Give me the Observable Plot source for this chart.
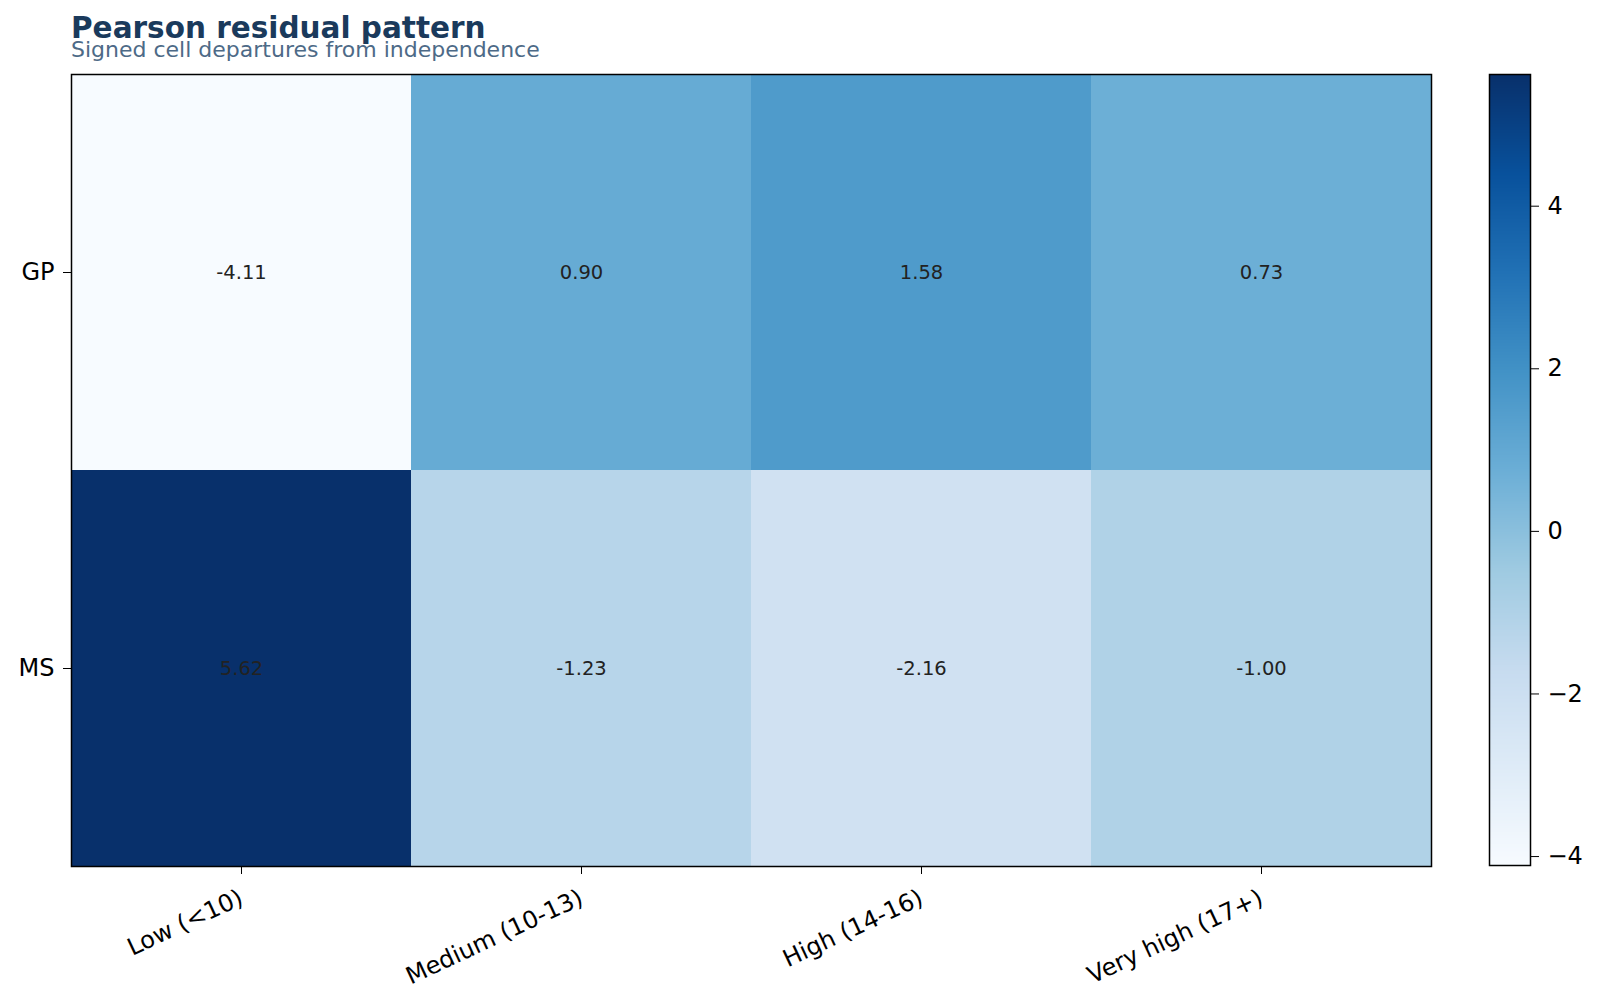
<!DOCTYPE html>
<html>
<head>
<meta charset="utf-8">
<script src="https://cdn.jsdelivr.net/npm/d3@7"></script>
<script src="https://cdn.jsdelivr.net/npm/@observablehq/plot@0.6"></script>
<style>
  html, body { margin: 0; padding: 0; background: #fff; }
  #wrap { position: relative; width: 1600px; height: 1005px; font-family: "DejaVu Sans", sans-serif; }
  #title { position: absolute; left: 71px; top: 14px; font-size: 29.5px; line-height: 29.5px; font-weight: bold; color: #1a3a5c; white-space: nowrap; }
  #subtitle { position: absolute; left: 71px; top: 39px; font-size: 22px; line-height: 22px; color: #4d6a87; white-space: nowrap; }
  #main { position: absolute; left: 0; top: 0; }
  #cbar { position: absolute; left: 1488px; top: 0; }
</style>
</head>
<body>
<div id="wrap">
  <div id="main"></div>
  <div id="cbar"></div>
  <div id="title">Pearson residual pattern</div>
  <div id="subtitle">Signed cell departures from independence</div>
</div>
<script>
const rows = ["GP", "MS"];
const cols = ["Low (<10)", "Medium (10-13)", "High (14-16)", "Very high (17+)"];
const gpValues = [-4.11, 0.90, 1.58, 0.73];
const msValues = [5.62, -1.23, -2.16, -1.00];
const colorbarTicks = [-4, -2, 0, 2, 4];
const blues9 = ["#f7fbff", "#deebf7", "#c6dbef", "#9ecae1", "#6baed6", "#4292c6", "#2171b5", "#08519c", "#08306b"];

const data = [];
cols.forEach((c, i) => data.push({row: "GP", col: c, value: gpValues[i]}));
cols.forEach((c, i) => data.push({row: "MS", col: c, value: msValues[i]}));

const vmin = d3.min(data, d => d.value);
const vmax = d3.max(data, d => d.value);
const colorDomain = blues9.map((_, i) => vmin + (vmax - vmin) * i / (blues9.length - 1));
const colorScale = {type: "linear", domain: colorDomain, range: blues9, interpolate: "rgb"};

const font = {fontFamily: "DejaVu Sans, sans-serif", fontSize: "24px", background: "transparent", color: "black", overflow: "visible"};

const main = Plot.plot({
  width: 1600,
  height: 1005,
  marginLeft: 71,
  marginRight: 169,
  marginTop: 74,
  marginBottom: 139,
  style: font,
  x: {domain: cols, padding: 0, label: null, tickSize: 8, tickPadding: 22, tickRotate: -25},
  y: {domain: rows, padding: 0, label: null, tickSize: 8, tickPadding: 9},
  color: colorScale,
  marks: [
    Plot.cell(data, {x: "col", y: "row", fill: "value"}),
    Plot.text(data, {x: "col", y: "row", text: d => d.value.toFixed(2), fontSize: 19.5, fill: "#222"}),
    Plot.frame({stroke: "black", strokeWidth: 1.5})
  ]
});
document.getElementById("main").appendChild(main);

const cbar = Plot.plot({
  width: 112,
  height: 1005,
  marginLeft: 1,
  marginRight: 70,
  marginTop: 74,
  marginBottom: 140,
  style: font,
  x: {domain: [0, 1], axis: null},
  y: {domain: [vmin, vmax], axis: "right", ticks: colorbarTicks, label: null, tickSize: 8, tickPadding: 9,
      tickFormat: d => d < 0 ? "\u2212" + Math.abs(d) : String(d)},
  color: colorScale,
  marks: [
    Plot.raster({x1: 0, x2: 1, y1: vmin, y2: vmax, fill: (x, y) => y}),
    Plot.frame({stroke: "black", strokeWidth: 1.5})
  ]
});
document.getElementById("cbar").appendChild(cbar);
</script>
</body>
</html>
